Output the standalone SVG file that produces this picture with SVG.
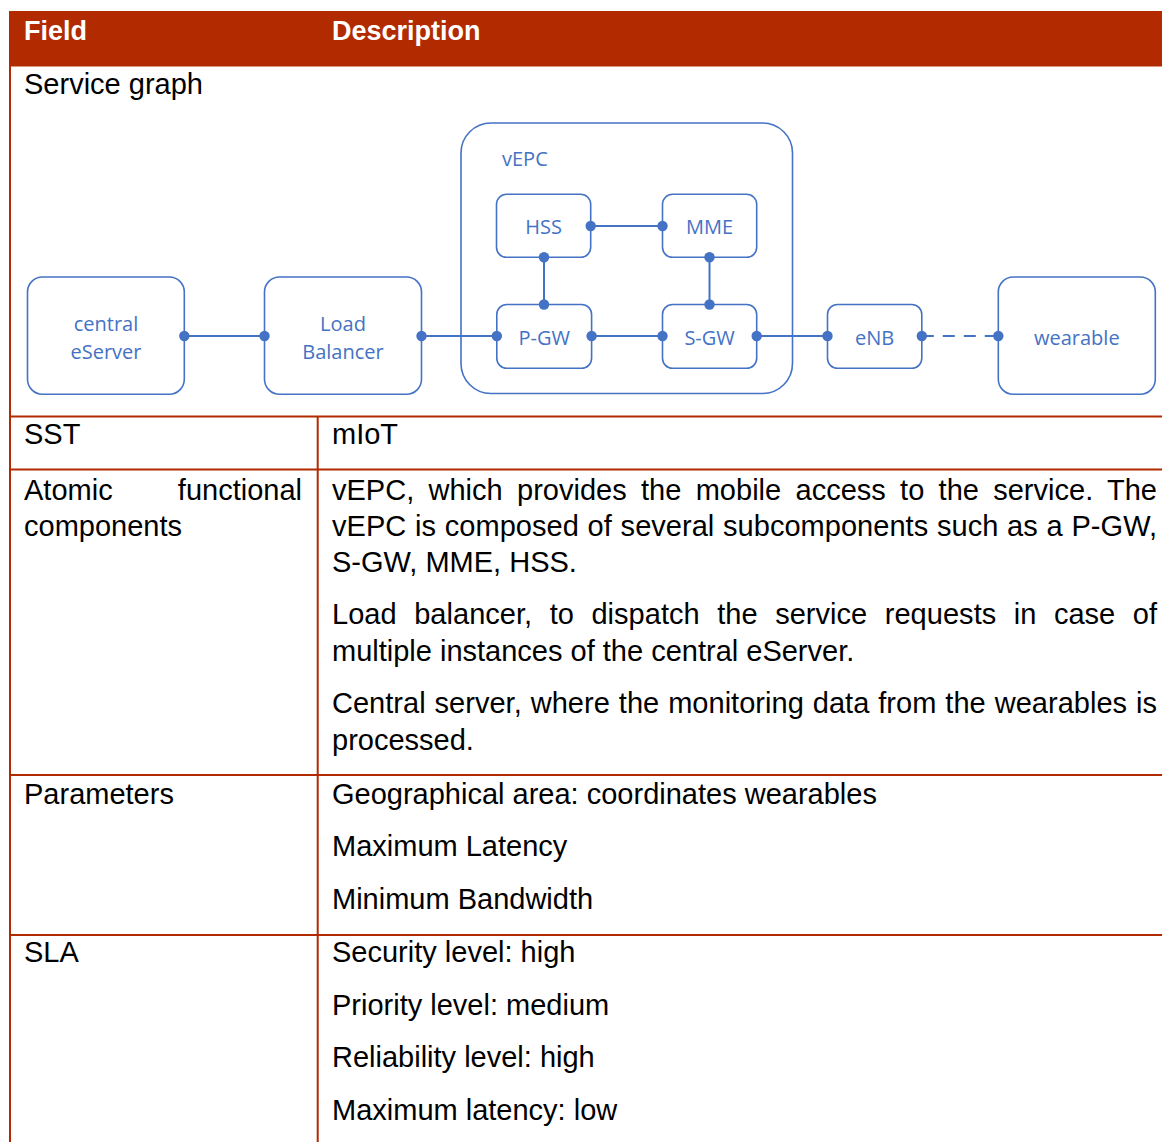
<svg xmlns="http://www.w3.org/2000/svg" width="1162" height="1142" viewBox="0 0 1162 1142">
  <style>
    .rule { stroke: #B22A00; stroke-width: 2; fill: none; }
    .head { font-family: "Liberation Sans", Arial, sans-serif; font-size: 27px; font-weight: bold; fill: #FFFFFF; }
    .cell { font-family: "Liberation Sans", Arial, sans-serif; font-size: 29px; fill: #000000; }
    .box { fill: #FFFFFF; stroke: #4472C4; stroke-width: 1.6; }
    .lbl { font-family: "Open Sans", "Noto Sans", sans-serif; font-size: 20px; fill: #4472C4; text-anchor: middle; }
    .link { stroke: #4472C4; stroke-width: 2; fill: none; marker-start: url(#dot); marker-end: url(#dot); }
    .dash { stroke-dasharray: 12 9; }
  </style>
  <defs>
    <marker id="dot" viewBox="-6 -6 12 12" markerWidth="12" markerHeight="12" markerUnits="userSpaceOnUse" refX="0" refY="0" orient="auto">
      <circle cx="0" cy="0" r="5.2" fill="#4472C4"/>
    </marker>
  </defs>

  <rect width="1162" height="1142" fill="#FFFFFF"/>

  <!-- table frame -->
  <g id="table">
    <rect x="10" y="11" width="1152" height="55.5" fill="#B22A00"/>
    <line class="rule" x1="10" y1="11" x2="10" y2="1142"/>
    <line class="rule" x1="10" y1="416.5" x2="1162" y2="416.5"/>
    <line class="rule" x1="10" y1="469.5" x2="1162" y2="469.5"/>
    <line class="rule" x1="10" y1="775" x2="1162" y2="775"/>
    <line class="rule" x1="10" y1="935" x2="1162" y2="935"/>
    <line class="rule" x1="317.7" y1="416.5" x2="317.7" y2="1142"/>
    <text class="head" x="24" y="40">Field</text>
    <text class="head" x="332" y="40">Description</text>
  </g>

  <!-- table cells -->
  <g id="cells" class="cell">
    <text x="24" y="94">Service graph</text>
    <text x="24" y="444">SST</text>
    <text x="332" y="444">mIoT</text>
    <text x="24" y="500">Atomic</text>
    <text x="302" y="500" text-anchor="end">functional</text>
    <text x="24" y="536">components</text>
    <text x="332" y="500" word-spacing="6.2" textLength="825" lengthAdjust="spacing">vEPC, which provides the mobile access to the service. The</text>
    <text x="332" y="536" word-spacing="0.7" textLength="825" lengthAdjust="spacing">vEPC is composed of several subcomponents such as a P-GW,</text>
    <text x="332" y="572">S-GW, MME, HSS.</text>
    <text x="332" y="624" word-spacing="9.4" textLength="825" lengthAdjust="spacing">Load balancer, to dispatch the service requests in case of</text>
    <text x="332" y="661">multiple instances of the central eServer.</text>
    <text x="332" y="713" word-spacing="0.9" textLength="825" lengthAdjust="spacing">Central server, where the monitoring data from the wearables is</text>
    <text x="332" y="750">processed.</text>
    <text x="24" y="804">Parameters</text>
    <text x="332" y="804">Geographical area: coordinates wearables</text>
    <text x="332" y="856">Maximum Latency</text>
    <text x="332" y="909">Minimum Bandwidth</text>
    <text x="24" y="962">SLA</text>
    <text x="332" y="962">Security level: high</text>
    <text x="332" y="1015">Priority level: medium</text>
    <text x="332" y="1067">Reliability level: high</text>
    <text x="332" y="1120">Maximum latency: low</text>
  </g>

  <!-- service graph nodes -->
  <g id="vepc">
    <rect class="box" x="461" y="123" width="331.5" height="270.5" rx="30"/>
    <text class="lbl" x="502" y="166" style="text-anchor:start">vEPC</text>
  </g>
  <g id="central-eserver">
    <rect class="box" x="27.5" y="277" width="156.8" height="117.3" rx="15"/>
    <text class="lbl" x="106" y="331">central</text>
    <text class="lbl" x="106" y="359">eServer</text>
  </g>
  <g id="load-balancer">
    <rect class="box" x="264.5" y="277" width="157" height="117.3" rx="15"/>
    <text class="lbl" x="343" y="331">Load</text>
    <text class="lbl" x="343" y="359">Balancer</text>
  </g>
  <g id="hss">
    <rect class="box" x="496.5" y="194.3" width="94.2" height="63" rx="10"/>
    <text class="lbl" x="543.6" y="234">HSS</text>
  </g>
  <g id="mme">
    <rect class="box" x="662.5" y="194.3" width="94.2" height="63" rx="10"/>
    <text class="lbl" x="709.6" y="234">MME</text>
  </g>
  <g id="p-gw">
    <rect class="box" x="496.8" y="304.5" width="94.8" height="63.8" rx="10"/>
    <text class="lbl" x="544.2" y="345">P-GW</text>
  </g>
  <g id="s-gw">
    <rect class="box" x="662.5" y="304.5" width="94.2" height="63.8" rx="10"/>
    <text class="lbl" x="709.6" y="345">S-GW</text>
  </g>
  <g id="enb">
    <rect class="box" x="827.5" y="304.5" width="94.3" height="63.8" rx="10"/>
    <text class="lbl" x="874.7" y="345">eNB</text>
  </g>
  <g id="wearable">
    <rect class="box" x="998.3" y="277" width="157" height="117.3" rx="15"/>
    <text class="lbl" x="1076.8" y="345">wearable</text>
  </g>

  <!-- connectors, with a dot at each end -->
  <g id="connectors">
    <line class="link" x1="184.3" y1="336" x2="264.5" y2="336"/>
    <line class="link" x1="421.5" y1="336" x2="496.8" y2="336"/>
    <line class="link" x1="591.6" y1="336" x2="662.5" y2="336"/>
    <line class="link" x1="756.7" y1="336" x2="827.5" y2="336"/>
    <line class="link dash" x1="921.8" y1="336" x2="998.3" y2="336"/>
    <line class="link" x1="590.7" y1="226" x2="662.5" y2="226"/>
    <line class="link" x1="544" y1="257.3" x2="544" y2="304.5"/>
    <line class="link" x1="709.5" y1="257.3" x2="709.5" y2="304.5"/>
  </g>
</svg>
